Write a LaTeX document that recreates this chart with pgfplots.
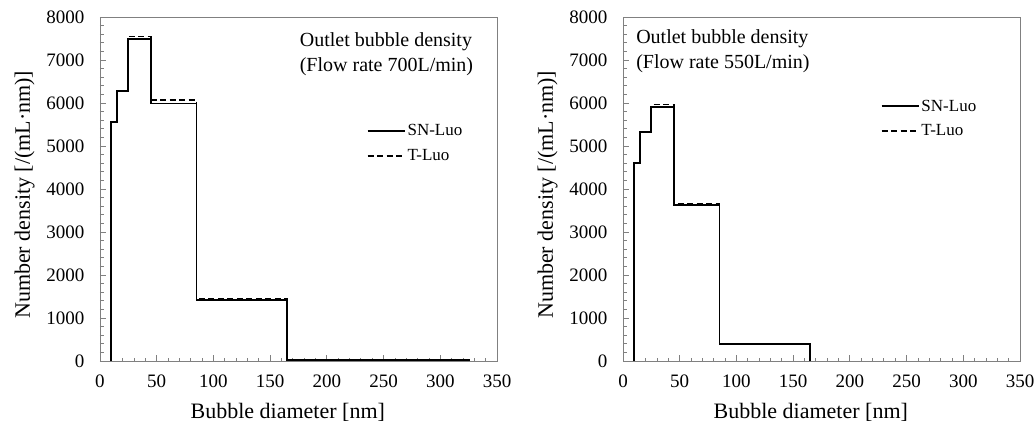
\documentclass[border=0pt]{standalone}
\usepackage{fontspec}
\setmainfont{Liberation Serif}
\usepackage{pgfplots}
\pgfplotsset{compat=1.18}
\begin{document}
\begin{tikzpicture}
\useasboundingbox (0pt,0pt) rectangle (1036pt,424pt);
\pgfplotsset{
  myaxis/.style={
    scale only axis, width=397pt, height=344pt,
    anchor=south west,
    xmin=0, xmax=350, ymin=0, ymax=8000,
    xtick={0,50,...,350}, ytick={0,1000,...,8000},
    minor x tick num=4, minor y tick num=4,
    tick align=inside, xtick pos=bottom, ytick pos=left,
    major tick length=6pt, minor tick length=3.5pt,
    axis line style={gray, line width=0.9pt},
    every tick/.style={gray, line width=0.8pt},
    /pgf/number format/assume math mode=true,
    /pgf/number format/set thousands separator={},
    tick label style={font=\fontsize{19}{21}\selectfont},
    yticklabel style={xshift=-12pt},
    xticklabel style={yshift=-10pt},
    label style={font=\fontsize{22}{24}\selectfont},
    xlabel={Bubble diameter [nm]},
    ylabel={Number density [/(mL·nm)]},
    xlabel style={at={(axis description cs:0.473,-0.166)}, anchor=base},
    ylabel style={at={(axis description cs:-0.19,0.483)}, anchor=center},
    legend style={draw=none, fill=none, font=\fontsize{17}{19}\selectfont, row sep=8pt,
      anchor=west, inner sep=0pt, cells={anchor=west}},
    legend cell align=left,
    reverse legend,
    legend image code/.code={\draw[#1] (0pt,0pt) -- (37pt,0pt);},
    const plot mark left,
  },
  sn/.style={black, line width=1.8pt, line join=miter},
  tl/.style={black, line width=1.5pt, dash pattern=on 6pt off 3.5pt},
}
\begin{axis}[myaxis, at={(100pt,63pt)},
  legend style={at={(axis cs:235,5060)}}]
\addplot[tl] coordinates {(10,0) (10,5560) (15,6280) (25,7550) (45,6070) (85,1450) (165,30) (325,0)};
\addlegendentry{T-Luo}
\addplot[sn] coordinates {(10,0) (10,5560) (15,6280) (25,7490) (45,5990) (85,1420) (165,20) (325,0)};
\addlegendentry{SN-Luo}
\node[anchor=north west, align=left, font=\fontsize{20}{25}\selectfont, inner sep=0pt] at (axis cs:176,7650) {Outlet bubble density\\(Flow rate 700L/min)};
\end{axis}
\begin{axis}[myaxis, at={(623pt,63pt)},
  legend style={at={(axis cs:227,5640)}}]
\addplot[tl] coordinates {(10,0) (10,4600) (15,5330) (25,5960) (45,3650) (85,400) (165,0)};
\addlegendentry{T-Luo}
\addplot[sn] coordinates {(10,0) (10,4600) (15,5330) (25,5910) (45,3630) (85,395) (165,0)};
\addlegendentry{SN-Luo}
\node[anchor=north west, align=left, font=\fontsize{20}{25}\selectfont, inner sep=0pt] at (axis cs:11.5,7700) {Outlet bubble density\\(Flow rate 550L/min)};
\end{axis}
\end{tikzpicture}
\end{document}
